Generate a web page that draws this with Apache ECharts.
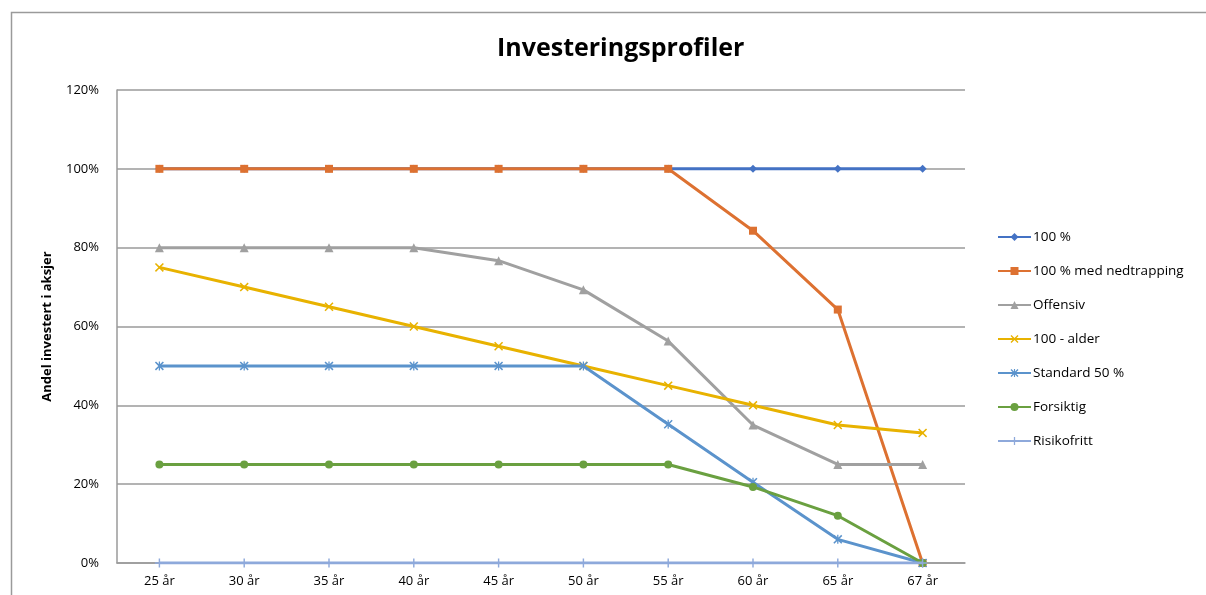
<!DOCTYPE html>
<html>
<head>
<meta charset="utf-8">
<script src="https://cdn.jsdelivr.net/npm/echarts@6/dist/echarts.min.js"></script>
<style>
  html, body { margin: 0; padding: 0; background: #fff; }
  #chart { width: 1206px; height: 595px; }
</style>
</head>
<body>
<div id="chart"></div>
<script>
// Age categories on the x axis
const ages = ['25 år', '30 år', '35 år', '40 år', '45 år', '50 år', '55 år', '60 år', '65 år', '67 år'];

// Share invested in equities (%) per profile
const full100      = [100, 100, 100, 100, 100, 100, 100, 100, 100, 100];
const stepDown100  = [100, 100, 100, 100, 100, 100, 100, 84.3, 64.3, 0];
const offensiv     = [80, 80, 80, 80, 76.7, 69.3, 56.3, 35, 25, 25];
const minusAge     = [75, 70, 65, 60, 55, 50, 45, 40, 35, 33];
const standard50   = [50, 50, 50, 50, 50, 50, 35.2, 20.5, 6, 0];
const forsiktig    = [25, 25, 25, 25, 25, 25, 25, 19.3, 12, 0];
const risikofritt  = [0, 0, 0, 0, 0, 0, 0, 0, 0, 0];

const seriesNames = ['100 %', '100 % med nedtrapping', 'Offensiv', '100 - alder', 'Standard 50 %', 'Forsiktig', 'Risikofritt'];
const yTicks = [0, 20, 40, 60, 80, 100, 120];

const FONT = '"Open Sans", "Noto Sans", sans-serif';

const crossPath = 'path://M0,1.2 L1.2,0 L5,3.8 L8.8,0 L10,1.2 L6.2,5 L10,8.8 L8.8,10 L5,6.2 L1.2,10 L0,8.8 L3.8,5 Z';
const starPath = 'path://M0,1.2 L1.2,0 L5,3.8 L8.8,0 L10,1.2 L6.2,5 L10,8.8 L8.8,10 L5,6.2 L1.2,10 L0,8.8 L3.8,5 Z M4.3,0 L5.7,0 L5.7,10 L4.3,10 Z';
const plusPath = 'path://M4.2,0 L5.8,0 L5.8,4.2 L10,4.2 L10,5.8 L5.8,5.8 L5.8,10 L4.2,10 L4.2,5.8 L0,5.8 L0,4.2 L4.2,4.2 Z';

const styles = [
  { data: full100,     color: '#4472C4', symbol: 'diamond',  size: 8 },
  { data: stepDown100, color: '#DD7131', symbol: 'rect',     size: 8 },
  { data: offensiv,    color: '#A0A0A0', symbol: 'triangle', size: 9 },
  { data: minusAge,    color: '#E8B200', symbol: crossPath,  size: 9 },
  { data: standard50,  color: '#5B93CC', symbol: starPath,   size: 9 },
  { data: forsiktig,   color: '#6AA040', symbol: 'circle',   size: 8 },
  { data: risikofritt, color: '#8EA9DB', symbol: plusPath,   size: 9 }
];

const chart = echarts.init(document.getElementById('chart'), null, { renderer: 'canvas' });

chart.setOption({
  backgroundColor: '#fff',
  animation: false,
  title: {
    text: 'Investeringsprofiler',
    left: 492,
    top: 31,
    textStyle: { fontFamily: FONT, fontSize: 25, fontWeight: 'bold', color: '#000' }
  },
  graphic: [{
    type: 'rect',
    shape: { x: 11.5, y: 12.5, width: 1300, height: 700 },
    style: { fill: 'none', stroke: '#9a9a9a', lineWidth: 1.5 },
    silent: true
  }],
  legend: {
    orient: 'vertical',
    left: 992,
    top: 225,
    itemWidth: 33,
    itemHeight: 10,
    itemGap: 20,
    data: seriesNames,
    textStyle: { fontFamily: FONT, fontSize: 13.5, color: '#000', padding: [0, 0, 0, -3] }
  },
  grid: { left: 117, right: 241, top: 90, bottom: 32, containLabel: false },
  xAxis: {
    type: 'category',
    data: ages,
    boundaryGap: true,
    axisLine: { show: true, lineStyle: { color: '#9a9a9a', width: 1.5 } },
    axisTick: { show: false },
    axisLabel: { fontFamily: FONT, fontSize: 13, color: '#000', margin: 12 }
  },
  yAxis: {
    type: 'value',
    min: 0,
    max: 120,
    interval: 20,
    name: 'Andel investert i aksjer',
    nameLocation: 'middle',
    nameGap: 63,
    nameRotate: 90,
    nameTextStyle: { fontFamily: FONT, fontSize: 13, fontWeight: 'bold', color: '#000' },
    axisLine: { show: true, lineStyle: { color: '#9a9a9a', width: 1.5 } },
    axisTick: { show: false },
    splitLine: { show: true, lineStyle: { color: '#9a9a9a', width: 1.5 } },
    axisLabel: {
      fontFamily: FONT, fontSize: 13, color: '#000', margin: 18,
      formatter: v => yTicks.includes(v) ? v + '%' : ''
    }
  },
  series: styles.map((s, i) => ({
    name: seriesNames[i],
    type: 'line',
    data: s.data,
    symbol: s.symbol,
    symbolSize: s.size,
    showSymbol: true,
    color: s.color,
    lineStyle: { width: 3, color: s.color },
    itemStyle: { color: s.color },
    z: 2 + i
  }))
});
</script>
</body>
</html>
